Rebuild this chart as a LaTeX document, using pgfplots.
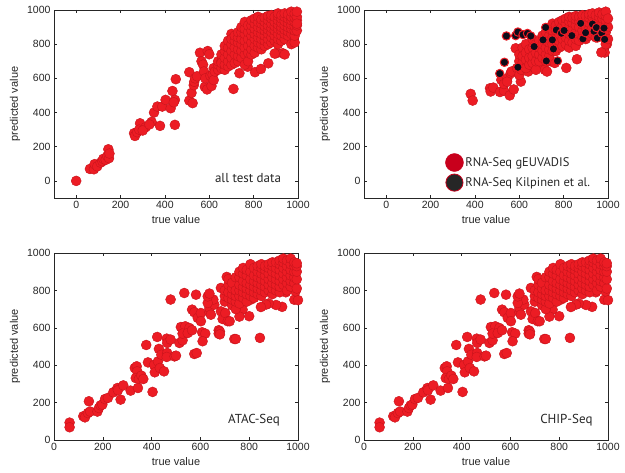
\documentclass[border=0pt]{standalone}
\usepackage{fontspec}
\setmainfont{Liberation Sans}
\newfontfamily\annfont{PT Sans}
\usepackage{pgfplots}
\pgfplotsset{compat=1.18}
\usepackage{pgfplotstable}
\definecolor{ptred}{HTML}{EC1C24}
\definecolor{ptedge}{HTML}{C8141C}
\definecolor{ptblack}{HTML}{0D0D1A}
\definecolor{legred}{HTML}{C8001C}
\definecolor{legblk}{HTML}{262626}
\definecolor{axgray}{HTML}{262626}

% all test data
\pgfplotstableread{
x y
0 0
62 70
80 68
83 98
95 85
110 107
118 115
122 129
133 123
140 145
145 185
148 133
150 160
261 279
265 263
275 285
288 337
284 300
313 314
300 295
351 400
340 345
330 330
366 435
378 322
388 435
403 474
426 425
434 526
445 474
445 328
449 595
440 460
510 636
510 470
520 515
525 455
530 560
532 580
536 600
545 612
558 750
565 700
572 680
576 640
580 550
582 600
590 535
593 760
600 741
605 615
610 555
615 620
620 590
620 660
625 640
709 538
736 630
806 636
833 655
866 688
773 668
901 747
931 747
976 809
640 650
640 680
640 700
655 660
655 700
655 740
655 690
670 650
670 680
670 720
670 760
670 790
685 670
685 700
685 740
685 780
685 820
700 680
700 720
700 760
700 800
700 860
700 830
715 690
715 740
715 780
715 820
715 850
730 700
730 730
730 770
730 810
730 840
730 870
745 720
745 760
745 800
745 830
745 870
745 900
760 680
760 740
760 780
760 820
760 860
760 890
760 930
775 700
775 750
775 790
775 830
775 870
775 910
790 740
790 770
790 810
790 850
790 880
790 910
790 940
805 750
805 790
805 830
805 860
805 890
805 920
805 950
820 780
820 810
820 840
820 870
820 900
820 930
820 960
835 770
835 800
835 830
835 860
835 890
835 920
835 945
850 790
850 820
850 850
850 880
850 905
850 930
850 955
865 800
865 830
865 860
865 885
865 910
865 940
865 965
880 810
880 840
880 870
880 895
880 920
880 950
880 970
895 745
895 820
895 850
895 880
895 905
895 930
895 960
910 800
910 830
910 860
910 890
910 915
910 940
910 965
910 980
925 820
925 850
925 880
925 900
925 925
925 950
925 970
940 740
940 830
940 860
940 885
940 910
940 935
940 960
940 980
955 850
955 875
955 900
955 925
955 950
955 975
970 800
970 860
970 890
970 915
970 940
970 960
970 990
985 810
985 850
985 880
985 905
985 930
985 955
985 980
995 880
995 910
995 940
995 960
995 990
995 920
}\alldata

% RNA-Seq gEUVADIS
\pgfplotstableread{
x y
381 509
390 470
468 542
471 523
483 546
513 520
531 528
557 500
575 535
519 591
531 567
546 600
561 629
584 649
607 581
545 580
565 640
590 660
600 620
610 650
620 680
640 640
650 690
670 660
700 680
715 650
725 640
740 700
760 690
812 661
860 712
985 751
970 752
995 800
584 776
600 700
600 740
615 690
615 730
615 780
630 660
630 710
630 750
630 800
645 680
645 720
645 770
660 690
660 730
660 780
660 830
675 650
675 700
675 750
675 800
690 700
690 740
690 780
690 820
705 720
705 760
705 800
705 850
720 700
720 740
720 780
720 820
720 870
735 730
735 770
735 810
735 850
735 890
750 760
750 800
750 840
750 880
750 920
765 760
765 800
765 840
765 880
765 910
780 780
780 820
780 860
780 900
780 930
795 790
795 830
795 870
795 910
795 940
810 800
810 840
810 880
810 920
810 950
825 780
825 820
825 860
825 900
825 935
825 960
840 810
840 850
840 890
840 925
840 955
855 790
855 830
855 870
855 910
855 945
855 965
870 820
870 860
870 900
870 935
870 960
885 840
885 880
885 915
885 945
885 970
900 830
900 870
900 905
900 940
900 965
915 850
915 890
915 925
915 955
915 975
930 860
930 895
930 930
930 960
930 980
945 840
945 880
945 915
945 945
945 970
960 870
960 905
960 935
960 960
960 985
975 850
975 890
975 920
975 950
975 975
990 800
990 870
990 910
990 940
990 965
990 990
1000 830
1000 900
1000 950
}\geuv

% RNA-Seq Kilpinen et al.
\pgfplotstableread{
x y
512 628
533 694
542 848
584 850
594 871
617 856
637 863
652 848
594 665
667 786
707 825
719 898
722 702
749 825
754 772
767 883
772 702
790 864
802 880
837 850
877 922
887 831
899 867
930 918
937 875
948 897
952 836
972 865
982 894
985 828
}\kilp

% ATAC-Seq / CHIP-Seq
\pgfplotstableread{
x y
64 93
64 68
120 127
127 121
139 144
148 152
143 207
178 152
184 171
191 185
198 189
209 219
221 225
243 255
260 278
262 266
273 216
284 292
314 264
331 385
339 394
341 367
335 331
348 326
358 344
366 326
344 278
378 508
385 415
404 257
410 401
413 362
423 551
426 420
430 487
434 385
440 456
451 367
462 542
464 519
464 465
462 444
478 537
478 751
494 447
500 451
514 519
527 533
534 786
582 777
575 460
585 465
520 604
538 608
555 599
527 569
548 572
566 587
607 576
620 569
609 528
675 587
675 569
739 540
844 546
566 697
575 683
589 653
602 679
602 635
637 683
637 706
643 670
657 724
653 751
630 733
630 768
637 783
684 688
691 647
702 679
712 635
684 813
705 795
719 831
725 777
732 742
708 872
773 697
800 662
807 751
760 660
985 750
1000 748
990 795
950 790
935 712
910 722
880 730
869 724
848 711
745 540
720 635
680 580
680 565
700 740
700 770
700 800
715 760
715 790
715 830
715 860
730 720
730 750
730 780
730 810
730 840
745 700
745 740
745 770
745 800
745 870
760 730
760 770
760 800
760 830
760 870
760 900
775 760
775 790
775 820
775 850
775 890
775 920
790 740
790 780
790 810
790 840
790 880
790 910
805 770
805 800
805 830
805 860
805 900
805 940
820 760
820 790
820 820
820 850
820 880
820 920
835 780
835 810
835 840
835 870
835 900
835 930
850 770
850 800
850 830
850 860
850 890
850 920
850 940
865 790
865 820
865 850
865 880
865 910
865 930
880 800
880 830
880 860
880 890
880 920
880 940
895 780
895 810
895 840
895 870
895 900
895 930
895 950
910 800
910 830
910 860
910 890
910 920
910 950
925 790
925 820
925 850
925 880
925 910
925 940
925 960
940 830
940 860
940 890
940 920
940 950
940 970
955 800
955 840
955 870
955 900
955 930
955 960
970 820
970 850
970 880
970 910
970 940
970 970
985 840
985 870
985 900
985 930
985 950
995 810
995 860
995 900
995 930
995 945
}\seqdata

\pgfplotsset{
  panel/.style={scale only axis, width=244pt, anchor=south west,
    xmin=-100, xmax=1000, ymin=-100, ymax=1000,
    xtick={0,200,...,1000}, ytick={0,200,...,1000},
    xticklabel={\pgfmathparse{int(round(\tick))}\pgfmathresult},
    yticklabel={\pgfmathparse{int(round(\tick))}\pgfmathresult},
    tick align=inside, major tick length=3pt,
    axis line style={axgray, line width=0.5pt},
    every tick/.style={axgray, line width=0.5pt},
    ticklabel style={font=\fontsize{10.5}{12}\selectfont, text=axgray},
    label style={font=\fontsize{11}{13}\selectfont, text=axgray},
    xlabel={true value}, ylabel={predicted value},
    clip=false},
  redpt/.style={only marks, mark=*, mark size=5pt,
    mark options={fill=ptred, draw=ptedge, line width=0.4pt}},
  blkpt/.style={only marks, mark=*, mark size=4.2pt,
    mark options={fill=ptblack, draw=ptred, line width=1pt}},
}

\begin{document}
\begin{tikzpicture}
\useasboundingbox (0,0) rectangle (625pt,473pt);

\begin{axis}[panel, height=188pt, at={(54pt,275pt)}]
\addplot[redpt] table {\alldata};
\node[anchor=east, font=\annfont\fontsize{13}{15}\selectfont, text=axgray]
  at (rel axis cs:0.945,0.106) {all test data};
\end{axis}

\begin{axis}[panel, height=188pt, at={(364pt,275pt)},
  legend style={draw=none, fill=none, at={(rel axis cs:0.333,0.035)},
    anchor=south west, font=\annfont\fontsize{12.5}{14}\selectfont,
    text=axgray, row sep=2.5pt, inner sep=0pt},
  legend cell align=left]
\addplot[redpt, forget plot] table {\geuv};
\addplot[blkpt, forget plot] table {\kilp};
\addlegendimage{only marks, mark=*, mark size=9pt,
  mark options={fill=legred, draw=legred, line width=0.4pt}}
\addlegendentry{RNA-Seq gEUVADIS}
\addlegendimage{only marks, mark=*, mark size=8.6pt,
  mark options={fill=legblk, draw=legred, line width=0.8pt}}
\addlegendentry{RNA-Seq Kilpinen et al.}
\end{axis}

\begin{axis}[panel, height=187pt, at={(54pt,33pt)}, xmin=0, ymin=0]
\addplot[redpt] table {\seqdata};
\node[anchor=east, font=\annfont\fontsize{13}{15}\selectfont, text=axgray]
  at (rel axis cs:0.94,0.107) {ATAC-Seq};
\end{axis}

\begin{axis}[panel, height=187pt, at={(364pt,33pt)}, xmin=0, ymin=0]
\addplot[redpt] table {\seqdata};
\node[anchor=east, font=\annfont\fontsize{13}{15}\selectfont, text=axgray]
  at (rel axis cs:0.951,0.107) {CHIP-Seq};
\end{axis}
\end{tikzpicture}
\end{document}
